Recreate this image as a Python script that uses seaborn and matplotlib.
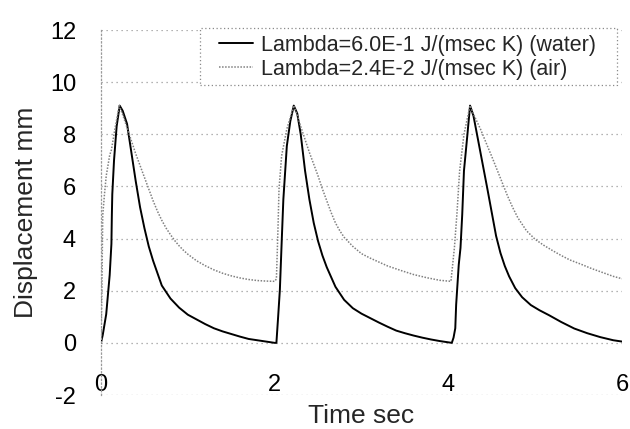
import numpy as np
import pandas as pd
import matplotlib
matplotlib.use("Agg")
import matplotlib.pyplot as plt
from matplotlib.patches import Rectangle
import seaborn as sns

# ---- data ----
water_t1 = [0.00, 0.02, 0.06, 0.10, 0.12, 0.125, 0.13, 0.15, 0.18, 0.215, 0.25, 0.30, 0.35, 0.40, 0.45, 0.50, 0.55, 0.60, 0.70, 0.80, 0.90, 1.00, 1.10, 1.20, 1.30, 1.40, 1.50, 1.60, 1.70, 1.80, 1.90, 2.00]
water_v1 = [0.00, 0.30, 1.10, 2.60, 3.80, 4.90, 5.70, 7.00, 8.30, 9.10, 8.90, 8.40, 7.30, 6.20, 5.20, 4.40, 3.70, 3.15, 2.20, 1.70, 1.35, 1.08, 0.90, 0.72, 0.56, 0.44, 0.34, 0.24, 0.15, 0.10, 0.05, 0.00]
water_t2 = [2.02, 2.04, 2.06, 2.08, 2.10, 2.14, 2.18, 2.22, 2.26, 2.30, 2.35, 2.40, 2.45, 2.50, 2.55, 2.60, 2.70, 2.80, 2.90, 3.00, 3.10, 3.20, 3.30, 3.40, 3.50, 3.60, 3.70, 3.80, 3.90, 4.00]
water_v2 = [0.00, 1.00, 2.04, 3.80, 5.50, 7.55, 8.50, 9.10, 8.80, 8.00, 6.60, 5.50, 4.60, 3.90, 3.35, 2.90, 2.15, 1.65, 1.33, 1.12, 0.95, 0.78, 0.62, 0.47, 0.37, 0.28, 0.20, 0.13, 0.07, 0.02]
water_t3 = [4.04, 4.06, 4.08, 4.09, 4.12, 4.14, 4.16, 4.18, 4.22, 4.25, 4.29, 4.33, 4.37, 4.41, 4.45, 4.50, 4.55, 4.60, 4.65, 4.70, 4.77, 4.85, 4.95, 5.05, 5.16, 5.30, 5.45, 5.60, 5.75, 5.90, 6.00]
water_v3 = [0.00, 0.20, 0.56, 1.46, 3.00, 3.64, 4.92, 6.60, 8.00, 9.10, 8.70, 8.00, 7.30, 6.60, 5.90, 5.00, 4.10, 3.45, 2.95, 2.55, 2.10, 1.75, 1.45, 1.25, 1.06, 0.80, 0.55, 0.37, 0.22, 0.10, 0.05]

air_t1 = [0.00, 0.01, 0.02, 0.04, 0.06, 0.08, 0.10, 0.12, 0.16, 0.21, 0.25, 0.30, 0.35, 0.40, 0.45, 0.50, 0.55, 0.60, 0.65, 0.70, 0.75, 0.80, 0.85, 0.90, 0.95, 1.00, 1.10, 1.20, 1.30, 1.40, 1.50, 1.60, 1.70, 1.80, 1.90, 2.00]
air_v1 = [0.00, 2.00, 4.90, 5.70, 6.40, 6.80, 7.20, 7.40, 8.20, 9.10, 8.75, 8.25, 7.75, 7.25, 6.80, 6.35, 5.90, 5.45, 5.05, 4.70, 4.40, 4.15, 3.92, 3.72, 3.55, 3.40, 3.15, 2.96, 2.80, 2.67, 2.57, 2.49, 2.43, 2.39, 2.37, 2.36]
air_t2 = [2.02, 2.03, 2.04, 2.05, 2.08, 2.14, 2.22, 2.26, 2.30, 2.35, 2.40, 2.45, 2.50, 2.55, 2.60, 2.65, 2.70, 2.75, 2.80, 2.90, 3.00, 3.10, 3.20, 3.30, 3.45, 3.60, 3.75, 3.90, 4.03]
air_v2 = [2.45, 3.50, 4.60, 5.90, 7.17, 8.20, 9.10, 8.75, 8.30, 7.80, 7.30, 6.85, 6.40, 5.90, 5.45, 5.00, 4.60, 4.30, 4.05, 3.70, 3.42, 3.25, 3.10, 2.95, 2.78, 2.62, 2.50, 2.40, 2.36]
air_t3 = [4.05, 4.07, 4.10, 4.13, 4.18, 4.25, 4.30, 4.37, 4.45, 4.50, 4.56, 4.62, 4.68, 4.74, 4.80, 4.90, 5.00, 5.10, 5.20, 5.30, 5.40, 5.54, 5.65, 5.80, 5.90, 6.00]
air_v3 = [3.00, 3.65, 5.00, 6.60, 8.00, 9.10, 8.70, 8.20, 7.55, 7.15, 6.65, 6.15, 5.65, 5.20, 4.80, 4.30, 3.97, 3.74, 3.54, 3.35, 3.18, 3.00, 2.85, 2.67, 2.55, 2.46]

water_label = "Lambda=6.0E-1 J/(msec K) (water)"
air_label = "Lambda=2.4E-2 J/(msec K) (air)"
x_ticks = [0, 2, 4, 6]
y_ticks = [-2, 0, 2, 4, 6, 8, 10, 12]
x_label = "Time sec"
y_label = "Displacement mm"

water = pd.DataFrame({"t": water_t1 + water_t2 + water_t3,
                      "v": water_v1 + water_v2 + water_v3})
air = pd.DataFrame({"t": air_t1 + air_t2 + air_t3,
                    "v": air_v1 + air_v2 + air_v3})

# ---- style ----
sns.set_theme(style="white")
plt.rcParams["font.family"] = ["Liberation Sans", "DejaVu Sans"]

W, H = 630, 429
fig = plt.figure(figsize=(W / 100, H / 100), dpi=100)
ax = fig.add_axes([101 / W, (H - 395) / H, (622 - 101) / W, (395 - 30) / H])

sns.lineplot(data=water, x="t", y="v", ax=ax, estimator=None, sort=False,
             color="black", linewidth=1.4, label=water_label)
sns.lineplot(data=air, x="t", y="v", ax=ax, estimator=None, sort=False,
             color="#808080", linewidth=1.1, linestyle=(0, (1, 1)), label=air_label)

ax.set_xlim(0, 6)
ax.set_ylim(-2, 12)
ax.set_xticks(x_ticks)
ax.set_yticks(y_ticks)
ax.set_xticklabels([str(v) for v in x_ticks])
ax.set_yticklabels([str(v) for v in y_ticks])
ax.tick_params(axis="both", length=0, labelsize=17, colors="black")
ax.tick_params(axis="x", pad=-15)
ax.tick_params(axis="y", pad=18)

ax.grid(axis="y", color="#9a9a9a", linestyle=(0, (1, 3)), linewidth=0.9)
ax.grid(axis="x", visible=False)
for s in ["top", "right", "bottom"]:
    ax.spines[s].set_visible(False)
ax.spines["left"].set_color("#9a9a9a")
ax.spines["left"].set_linestyle((0, (1, 2)))
ax.spines["left"].set_linewidth(0.9)

ax.set_xlabel(x_label, fontsize=19)
ax.set_ylabel(y_label, fontsize=19)
ax.xaxis.set_label_coords(0.5, -0.025)
ax.yaxis.set_label_coords(-0.121, 0.5)

# legend
handles, labels = ax.get_legend_handles_labels()
leg = ax.legend(handles, labels, loc="upper left",
                bbox_to_anchor=(219 / W, 1 - 35 / H), bbox_transform=fig.transFigure,
                frameon=False, fontsize=15.5, borderpad=0, borderaxespad=0,
                handlelength=1.6, handletextpad=0.35, labelspacing=0.14)
ax.add_patch(Rectangle((200 / W, 1 - 85 / H), 417 / W, 57 / H,
                       transform=fig.transFigure, fill=True, facecolor="white",
                       edgecolor="#8a8a8a", linestyle=(0, (1, 2)), linewidth=0.9,
                       zorder=4, clip_on=False))

fig.savefig("out.png", dpi=100)
